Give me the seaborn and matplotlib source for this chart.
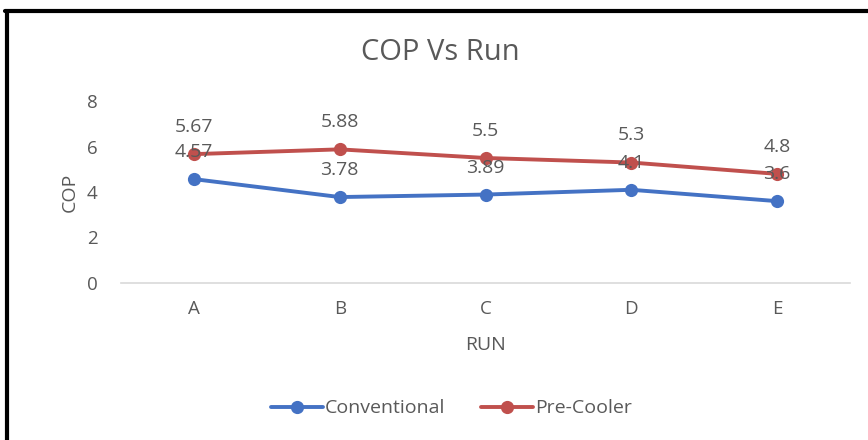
import matplotlib
matplotlib.use("Agg")
import matplotlib.pyplot as plt
import seaborn as sns
import pandas as pd

# Data
runs = ["A", "B", "C", "D", "E"]
conventional = [4.57, 3.78, 3.89, 4.1, 3.6]
pre_cooler = [5.67, 5.88, 5.5, 5.3, 4.8]
series_names = ["Conventional", "Pre-Cooler"]
colors = {"Conventional": "#4472C4", "Pre-Cooler": "#C0504D"}

df = pd.DataFrame({
    "RUN": runs * 2,
    "COP": conventional + pre_cooler,
    "Series": [series_names[0]] * len(runs) + [series_names[1]] * len(runs),
})

sns.set_style("white")
plt.rcParams["font.family"] = ["Open Sans", "DejaVu Sans"]
grey = "#595959"

fig = plt.figure(figsize=(8.68, 4.4), dpi=100)
ax = fig.add_axes([0.1394, 0.357, 0.8399, 0.413])

sns.lineplot(data=df, x="RUN", y="COP", hue="Series", palette=colors,
             marker="o", markersize=9.5, markeredgewidth=0, linewidth=2.8,
             sort=False, ax=ax, legend=True)

# data labels above each point
for name, vals in zip(series_names, [conventional, pre_cooler]):
    for i, v in enumerate(vals):
        ax.annotate(f"{v:g}", (i, v), xytext=(0, 13), textcoords="offset points",
                    ha="center", va="bottom", fontsize=14, color=grey)

ax.set_ylim(0, 8)
ax.set_yticks([0, 2, 4, 6, 8])
ax.set_xlim(-0.5, len(runs) - 0.5)
for s in ["top", "right", "left"]:
    ax.spines[s].set_visible(False)
ax.spines["bottom"].set_color("#D9D9D9")
ax.spines["bottom"].set_linewidth(1.2)
ax.tick_params(axis="both", length=0, labelsize=13.5, colors=grey)
ax.tick_params(axis="x", pad=12)
ax.tick_params(axis="y", pad=17)
ax.set_xlabel("RUN", fontsize=14, color=grey, labelpad=13)
ax.set_ylabel("COP", fontsize=14, color=grey, labelpad=6)

fig.text(0.507, 0.88, "COP Vs Run", ha="center", va="center",
         fontsize=21, color=grey)

handles, labels = ax.get_legend_handles_labels()
ax.legend(handles, labels, loc="center", bbox_to_anchor=(0.52, 0.072),
          bbox_transform=fig.transFigure, ncol=2, frameon=False,
          fontsize=14, labelcolor=grey, handlelength=2.7,
          handletextpad=0.1, columnspacing=1.8)

# outer frame of the pasted chart
fig.add_artist(plt.Line2D([0.008, 0.008], [0, 0.975], color="black",
                          linewidth=3, transform=fig.transFigure))
fig.add_artist(plt.Line2D([0.006, 1.0], [0.975, 0.975], color="black",
                          linewidth=3, transform=fig.transFigure))

fig.savefig("out.png", dpi=100, facecolor="white")
